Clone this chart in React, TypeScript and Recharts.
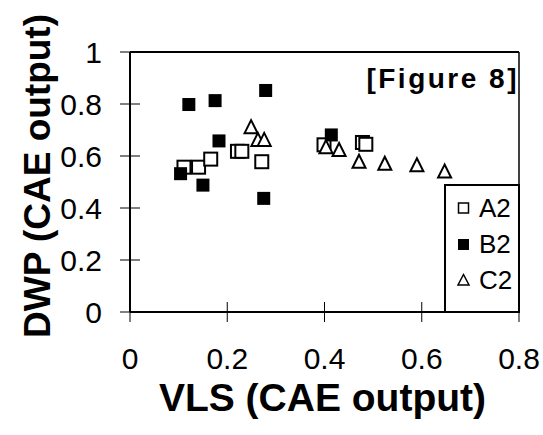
import React from "react";
import { ScatterChart, Scatter, XAxis, YAxis, ReferenceLine, Legend } from "recharts";

const xTicks = [0, 0.2, 0.4, 0.6, 0.8];
const xTickLabels = ["0", "0.2", "0.4", "0.6", "0.8"];
const yTicks = [0, 0.2, 0.4, 0.6, 0.8, 1];
const yTickLabels = ["0", "0.2", "0.4", "0.6", "0.8", "1"];

const seriesNames = ["A2", "B2", "C2"];

const a2X = [0.111, 0.141, 0.166, 0.221, 0.23, 0.271, 0.399, 0.478, 0.485];
const a2Y = [0.557, 0.557, 0.588, 0.618, 0.618, 0.578, 0.643, 0.652, 0.645];

const b2X = [0.121, 0.175, 0.183, 0.279, 0.104, 0.15, 0.275, 0.414];
const b2Y = [0.798, 0.813, 0.658, 0.852, 0.532, 0.488, 0.437, 0.681];

const c2X = [0.249, 0.263, 0.276, 0.403, 0.43, 0.471, 0.524, 0.59, 0.647];
const c2Y = [0.711, 0.662, 0.662, 0.634, 0.623, 0.578, 0.57, 0.564, 0.54];

const zip = (xs: number[], ys: number[]) => xs.map((x, i) => ({ x, y: ys[i] }));
const a2 = zip(a2X, a2Y);
const b2 = zip(b2X, b2Y);
const c2 = zip(c2X, c2Y);

const FONT = '"Liberation Sans", Arial, Helvetica, sans-serif';

const OpenSquare = (p: any) => (
  <rect x={p.cx - 6.5} y={p.cy - 6.5} width={13} height={13} fill="#fff" stroke="#000" strokeWidth={2} />
);
const FilledSquare = (p: any) => (
  <rect x={p.cx - 6.5} y={p.cy - 6.5} width={13} height={13} fill="#000" stroke="#000" strokeWidth={0} />
);
const Triangle = (p: any) => (
  <polygon
    points={`${p.cx},${p.cy - 7} ${p.cx - 6.5},${p.cy + 6} ${p.cx + 6.5},${p.cy + 6}`}
    fill="#fff"
    stroke="#000"
    strokeWidth={2}
    strokeLinejoin="miter"
  />
);

const XTick = (p: any) => {
  const i = xTicks.indexOf(p.payload.value);
  return (
    <g>
      <line x1={p.x} x2={p.x} y1={p.y - 10} y2={p.y + 10} stroke="#000" strokeWidth={1} />
      <text x={p.x} y={p.y + 46} dy="0.355em" textAnchor="middle" fontFamily={FONT} fontSize={30} fill="#000">
        {i >= 0 ? xTickLabels[i] : String(p.payload.value)}
      </text>
    </g>
  );
};

const YTick = (p: any) => {
  const i = yTicks.indexOf(p.payload.value);
  return (
    <g>
      <line x1={p.x - 10} x2={p.x + 10} y1={p.y} y2={p.y} stroke="#000" strokeWidth={1} />
      <text x={p.x - 28} y={p.y} dy="0.355em" textAnchor="end" fontFamily={FONT} fontSize={30} fill="#000">
        {i >= 0 ? yTickLabels[i] : String(p.payload.value)}
      </text>
    </g>
  );
};

const LegendBox = () => {
  const items = [
    { name: seriesNames[0], kind: "open" },
    { name: seriesNames[1], kind: "filled" },
    { name: seriesNames[2], kind: "tri" },
  ];
  return (
    <div
      style={{
        width: 72,
        height: 125,
        border: "2px solid #000",
        background: "#fff",
        boxSizing: "content-box",
        position: "relative",
        fontFamily: FONT,
      }}
    >
      {items.map((it, k) => (
        <div
          key={it.name}
          style={{ position: "absolute", left: 0, top: 4 + k * 36, height: 36, display: "flex", alignItems: "center" }}
        >
          <svg width={33} height={36} style={{ display: "block" }}>
            {it.kind === "open" && <rect x={12.5} y={13} width={10} height={10} fill="#fff" stroke="#000" strokeWidth={1.5} />}
            {it.kind === "filled" && <rect x={12} y={13} width={11} height={11} fill="#000" />}
            {it.kind === "tri" && (
              <polygon points="17.5,12.5 12,23 23,23" fill="#fff" stroke="#000" strokeWidth={1.5} />
            )}
          </svg>
          <span style={{ fontSize: 26, lineHeight: "36px", color: "#000" }}>{it.name}</span>
        </div>
      ))}
    </div>
  );
};

export default function App() {
  return (
    <div style={{ position: "absolute", left: 0, top: 0, width: 543, height: 435, background: "#fff" }}>
      <ScatterChart width={543} height={435} margin={{ top: 52, right: 24, bottom: 23, left: 30 }}>
        <XAxis
          type="number"
          dataKey="x"
          domain={[0, 0.8]}
          ticks={xTicks}
          interval={0}
          height={100}
          axisLine={{ stroke: "#000", strokeWidth: 2 }}
          tickLine={false}
          tickSize={0}
          tickMargin={0}
          tick={<XTick />}
          label={{
            content: (props: any) => {
              const vb = props.viewBox || { x: 130, y: 312, width: 389 };
              return (
                <text
                  x={vb.x + vb.width / 2 - 2}
                  y={vb.y + 99}
                  textAnchor="middle"
                  fontFamily={FONT}
                  fontWeight="bold"
                  fontSize={39}
                  fill="#000"
                >
                  VLS (CAE output)
                </text>
              );
            },
          }}
        />
        <YAxis
          type="number"
          dataKey="y"
          domain={[0, 1]}
          ticks={yTicks}
          interval={0}
          width={100}
          axisLine={{ stroke: "#000", strokeWidth: 2 }}
          tickLine={false}
          tickSize={0}
          tickMargin={0}
          tick={<YTick />}
          label={{
            content: (props: any) => {
              const vb = props.viewBox || { x: 30, y: 52, height: 260 };
              const cx = 50;
              const cy = vb.y + vb.height / 2 - 6;
              return (
                <text
                  x={cx}
                  y={cy}
                  transform={`rotate(-90, ${cx}, ${cy})`}
                  textAnchor="middle"
                  fontFamily={FONT}
                  fontWeight="bold"
                  fontSize={37}
                  fill="#000"
                >
                  DWP (CAE output)
                </text>
              );
            },
          }}
        />
        <ReferenceLine
          y={1}
          stroke="#000"
          strokeWidth={2}
          ifOverflow="visible"
          label={{
            content: (props: any) => {
              const vb = props.viewBox || { x: 130, y: 52, width: 389 };
              return (
                <text
                  x={vb.x + vb.width}
                  y={vb.y + 36}
                  textAnchor="end"
                  fontFamily={FONT}
                  fontWeight="bold"
                  fontSize={28}
                  letterSpacing={2.5}
                  fill="#000"
                >
                  [Figure 8]
                </text>
              );
            },
          }}
        />
        <ReferenceLine x={0.8} stroke="#000" strokeWidth={1.5} ifOverflow="visible" />
        <Scatter name={seriesNames[0]} data={a2} shape={<OpenSquare />} isAnimationActive={false} />
        <Scatter name={seriesNames[1]} data={b2} shape={<FilledSquare />} isAnimationActive={false} />
        <Scatter name={seriesNames[2]} data={c2} shape={<Triangle />} isAnimationActive={false} />
        <Legend
          layout="vertical"
          align="center"
          verticalAlign="middle"
          content={<LegendBox />}
          wrapperStyle={{ position: "absolute", left: 444, top: 184, width: "auto", height: "auto" }}
        />
      </ScatterChart>
    </div>
  );
}
